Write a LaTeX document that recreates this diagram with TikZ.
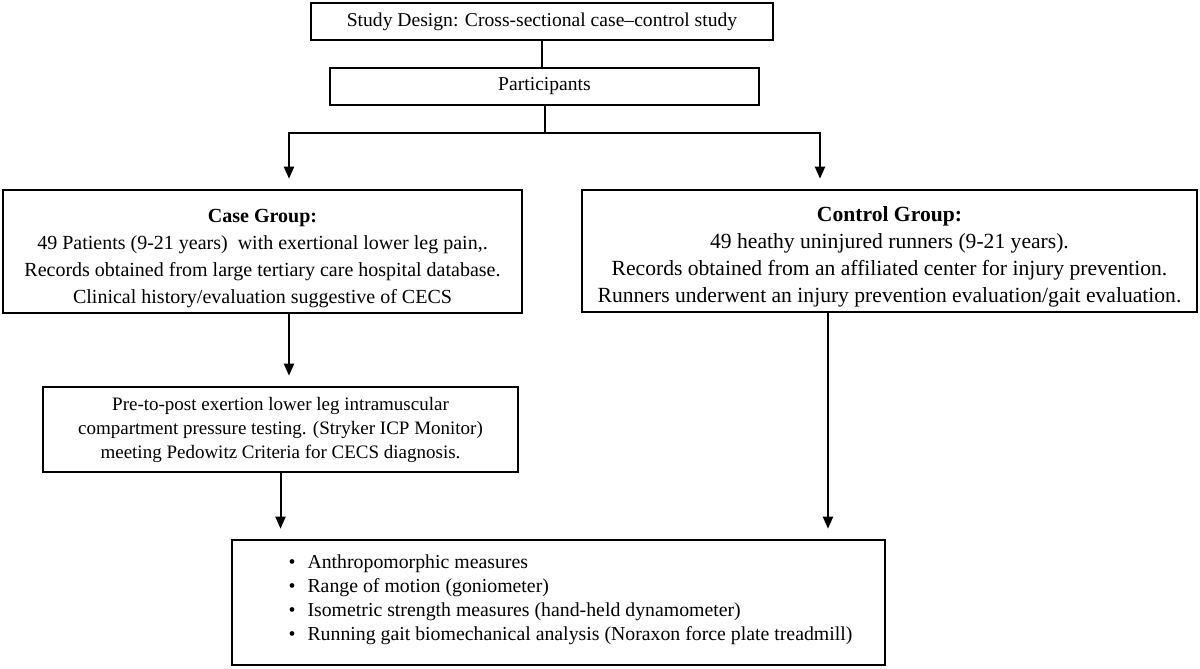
\documentclass[tikz,border=0pt]{standalone}
\usepackage{fontspec}
\setmainfont{Liberation Serif}
\usetikzlibrary{arrows.meta}

\tikzset{
	box/.style={draw, line width=1.3pt, inner sep=0pt, align=center, font=\fontsize{9.8}{13}\selectfont},
	link/.style={line width=1pt},
	arr/.style={link, -{Triangle[length=6pt,width=5pt]}, shorten >=5pt},
}
\newcommand{\bul}{\hspace*{12pt}\textbullet\hspace{6pt}}

\begin{document}
\begin{tikzpicture}[x=0.5pt,y=-0.5pt]
	% Page
	\fill[white] (0,0) rectangle (1200,669);
	\useasboundingbox (0,0) rectangle (1200,669);
	
	% Boxes
	\node[box, minimum width=231pt, minimum height=18.5pt] (study) at (542,21.5) {Study Design: Cross-sectional case--control study};
	\node[box, minimum width=214.5pt, minimum height=18.5pt] (part) at (544.5,86.5) {Participants};
	\node[box, minimum width=259.5pt, minimum height=61.5pt, font=\fontsize{10}{13.5}\selectfont] (case) at (262.5,251.5) {\rule{0pt}{13.5pt}\textbf{Case Group:}\\
		49 Patients (9-21 years)\ \ with exertional lower leg pain,.\\
		Records obtained from large tertiary care hospital database.\\
		Clinical history/evaluation suggestive of CECS};
	\node[box, minimum width=307.5pt, minimum height=61pt, font=\fontsize{10.8}{13.5}\selectfont] (ctrl) at (889.5,251) {\rule{0pt}{13.5pt}\textbf{Control Group:}\\
		49 heathy uninjured runners (9-21 years).\\
		Records obtained from an affiliated center for injury prevention.\\
		Runners underwent an injury prevention evaluation/gait evaluation.};
	\node[box, minimum width=237.5pt, minimum height=42.5pt, font=\fontsize{9.5}{12}\selectfont] (pre) at (280.5,429.5) {Pre-to-post exertion lower leg intramuscular\\
		compartment pressure testing. (Stryker ICP Monitor)\\
		meeting Pedowitz Criteria for CECS diagnosis.};
	\node[box, minimum width=326.5pt, minimum height=62.5pt, align=left, font=\fontsize{9.9}{12}\selectfont] (meas) at (558.5,602.5) {\bul Anthropomorphic measures\\
		\bul Range of motion (goniometer)\\
		\bul Isometric strength measures (hand-held dynamometer)\\
		\bul Running gait biomechanical analysis (Noraxon force plate treadmill)\rule[-5pt]{0pt}{0pt}};
	
	% Split points
	\coordinate (forkL) at (289,133);
	\coordinate (forkR) at (820,133);
	\coordinate (ctrlout) at (828,0);
	
	% Connectors
	\draw[link] (study.south) -- (study.south |- part.north);
	\draw[arr] (part.south) |- (forkL) -- (forkL |- case.north);
	\draw[arr] (part.south) |- (forkR) -- (forkR |- ctrl.north);
	\draw[arr] (case.south -| forkL) -- (forkL |- pre.north);
	\draw[arr] (pre.south) -- (pre.south |- meas.north);
	\draw[arr] (ctrl.south -| ctrlout) -- (ctrlout |- meas.north);
\end{tikzpicture}
\end{document}
